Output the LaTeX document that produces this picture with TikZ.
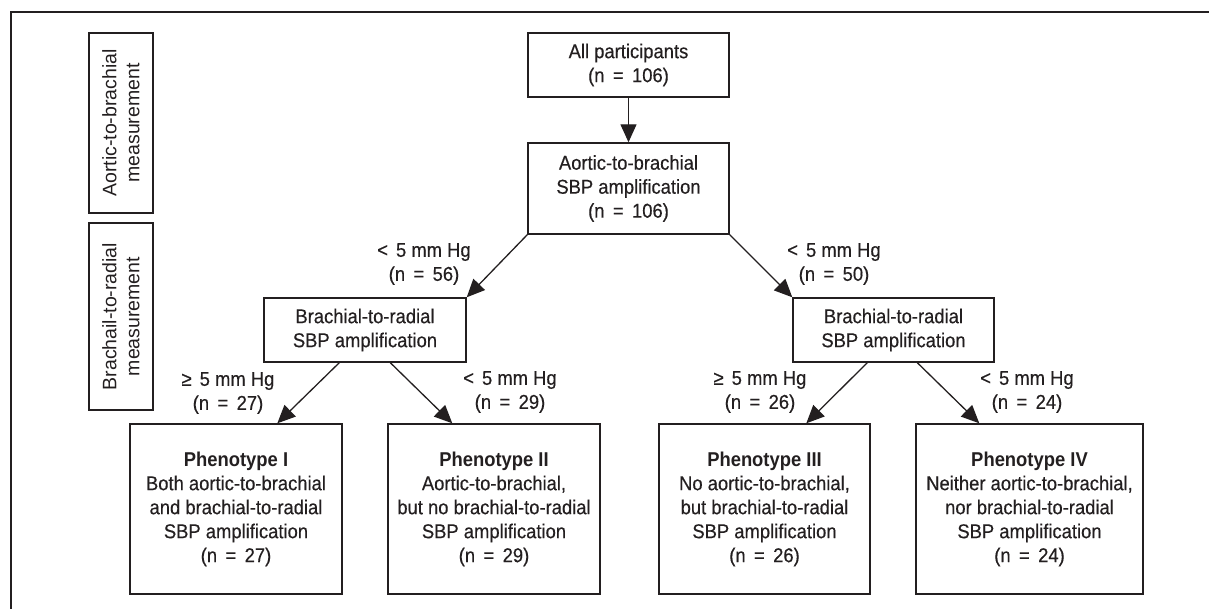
\documentclass[tikz,border=0pt]{standalone}
\usepackage{fontspec}
\setmainfont{Liberation Sans}
\newfontfamily\cnd[FakeStretch=0.92, UprightFeatures={FakeBold=0.4}]{Liberation Sans}
\usetikzlibrary{arrows.meta}
\definecolor{ink}{HTML}{231F20}
\newcommand{\eqs}{\hspace{0.42em}=\hspace{0.42em}}
\begin{document}
\begin{tikzpicture}[x=1pt,y=-1pt,
  box/.style={draw=ink, line width=1.4pt, text=ink, align=center, font=\cnd\fontsize{20}{24}\selectfont, inner sep=0pt},
  lbl/.style={text=ink, align=center, font=\cnd\fontsize{20}{24}\selectfont, inner sep=0pt},
  side/.style={draw=ink, line width=1.4pt, text=ink, align=center, font=\fontsize{19.5}{23}\selectfont, rotate=90, inner sep=0pt},
  arr/.style={draw=ink, line width=1.3pt, -{Triangle[length=18pt,width=16pt]}}]
\useasboundingbox (0,0) rectangle (1209,609);
\coordinate (fr1) at (1209,12);
\coordinate (fr2) at (11,12);
\coordinate (fr3) at (11,609);
\draw[ink, line width=1.4pt] (fr1) -- (fr2) -- (fr3);

\node[side, minimum width=180pt, minimum height=64pt] (s1) at (121,123) {Aortic-to-brachial\\measurement};
\node[side, minimum width=187pt, minimum height=64pt] (s2) at (121,316.5) {Brachail-to-radial\\measurement};

\node[box, minimum width=201pt, minimum height=64pt] (all) at (628.5,65) {All participants\\(n\eqs106)};
\node[box, minimum width=201pt, minimum height=91pt] (amp) at (628.5,188.5) {Aortic-to-brachial\\SBP amplification\\(n\eqs106)};
\node[box, minimum width=202pt, minimum height=64pt] (bl) at (365,330) {Brachial-to-radial\\SBP amplification};
\node[box, minimum width=201pt, minimum height=64pt] (br) at (893.5,330) {Brachial-to-radial\\SBP amplification};

\node[box, minimum width=212pt, minimum height=170pt] (p1) at (236,509) {\textbf{Phenotype I}\\Both aortic-to-brachial\\and brachial-to-radial\\SBP amplification\\(n\eqs27)};
\node[box, minimum width=212pt, minimum height=170pt] (p2) at (494,509) {\textbf{Phenotype II}\\Aortic-to-brachial,\\but no brachial-to-radial\\SBP amplification\\(n\eqs29)};
\node[box, minimum width=211pt, minimum height=170pt] (p3) at (764.5,509) {\textbf{Phenotype III}\\No aortic-to-brachial,\\but brachial-to-radial\\SBP amplification\\(n\eqs26)};
\node[box, minimum width=227pt, minimum height=170pt] (p4) at (1029.5,509) {\textbf{Phenotype IV}\\Neither aortic-to-brachial,\\nor brachial-to-radial\\SBP amplification\\(n\eqs24)};

\node[lbl] (l56) at (424,264) {<\hspace{0.4em}5 mm Hg\\(n\eqs56)};
\node[lbl] (l50) at (834,264) {<\hspace{0.4em}5 mm Hg\\(n\eqs50)};
\node[lbl] (l27) at (228,393) {≥\hspace{0.4em}5 mm Hg\\(n\eqs27)};
\node[lbl] (l29) at (510,392) {<\hspace{0.4em}5 mm Hg\\(n\eqs29)};
\node[lbl] (l26) at (760,392) {≥\hspace{0.4em}5 mm Hg\\(n\eqs26)};
\node[lbl] (l24) at (1027,392) {<\hspace{0.4em}5 mm Hg\\(n\eqs24)};

\draw[arr] (all.south) -- (amp.north);
\draw[arr] (amp.south west) -- (bl.north east);
\draw[arr] (amp.south east) -- (br.north west);
\draw[arr] ([xshift=76pt]bl.south west) -- ([xshift=148pt]p1.north west);
\draw[arr] ([xshift=127pt]bl.south west) -- ([xshift=65pt]p2.north west);
\draw[arr] ([xshift=75pt]br.south west) -- ([xshift=148pt]p3.north west);
\draw[arr] ([xshift=125pt]br.south west) -- ([xshift=64pt]p4.north west);
\end{tikzpicture}
\end{document}
